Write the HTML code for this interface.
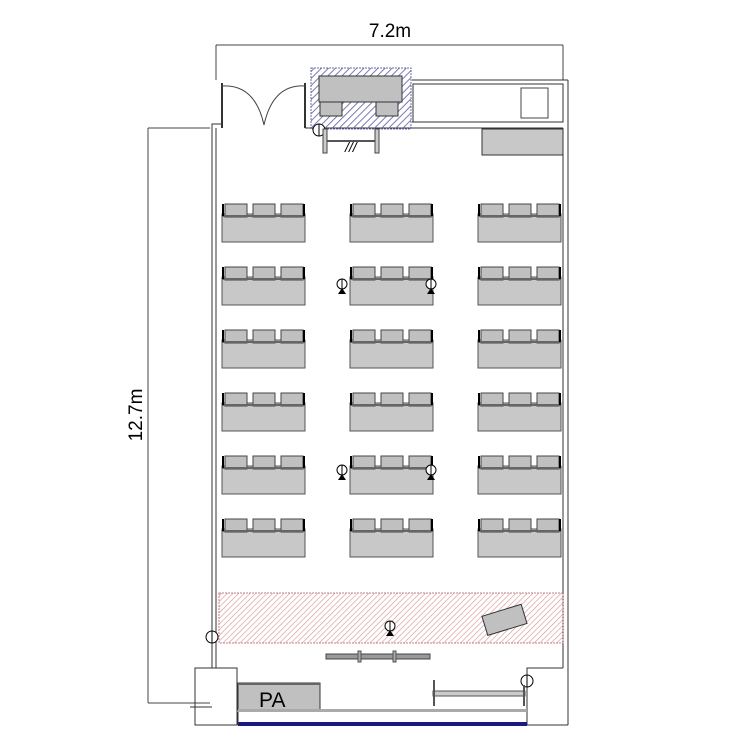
<!DOCTYPE html>
<html><head><style>body{margin:0;background:#fff}svg{display:block}</style></head><body>
<svg width="750" height="750" viewBox="0 0 750 750" xmlns="http://www.w3.org/2000/svg" font-family="Liberation Sans, sans-serif">
<defs>
<pattern id="hb" width="5" height="5" patternUnits="userSpaceOnUse" patternTransform="rotate(45)"><line x1="0" y1="0" x2="0" y2="5" stroke="#6a6aa8" stroke-width="1.8"/></pattern>
<pattern id="hr" width="4" height="4" patternUnits="userSpaceOnUse" patternTransform="rotate(45)"><line x1="0" y1="0" x2="0" y2="4" stroke="#d89090" stroke-width="1.2"/></pattern>
<g id="tbl">
<rect x="0" y="14" width="83" height="28" fill="#c8c8c8" stroke="#555" stroke-width="1"/>
<rect x="3" y="4" width="22" height="13" fill="#c0c0c0" stroke="#444"/>
<rect x="31" y="4" width="22" height="13" fill="#c0c0c0" stroke="#444"/>
<rect x="59" y="4" width="22" height="13" fill="#c0c0c0" stroke="#444"/>
<line x1="0" y1="16" x2="83" y2="16" stroke="#666" stroke-width="2"/>
<line x1="1" y1="4" x2="1" y2="16" stroke="#000" stroke-width="2"/>
<line x1="82" y1="4" x2="82" y2="16" stroke="#000" stroke-width="2"/>
</g>
<g id="mic"><circle cx="0" cy="0" r="5" fill="#fff" stroke="#000"/><line x1="0" y1="-5" x2="0" y2="5" stroke="#000"/><path d="M-4 10 L0 4 L4 10Z" fill="#000"/></g>
</defs>
<line x1="216" y1="45" x2="563" y2="45" stroke="#444"/>
<line x1="216" y1="45" x2="216" y2="80" stroke="#444"/>
<line x1="563" y1="45" x2="563" y2="80" stroke="#444"/>
<text x="390" y="37" font-size="19" text-anchor="middle">7.2m</text>
<line x1="148" y1="128" x2="148" y2="703" stroke="#444"/>
<line x1="148" y1="128" x2="210" y2="128" stroke="#444"/>
<line x1="148" y1="703" x2="210" y2="703" stroke="#444"/>
<text transform="translate(142 415) rotate(-90)" font-size="19" text-anchor="middle">12.7m</text>
<path d="M212 668 V124 H222 V83" fill="none" stroke="#333"/>
<path d="M216 668 V128" fill="none" stroke="#333"/>
<line x1="305" y1="83" x2="305" y2="128" stroke="#333" stroke-width="2"/>
<line x1="222" y1="83" x2="222" y2="128" stroke="#333" stroke-width="2"/>
<path d="M222 86 Q255 84 264 125 Q273 84 305 86" fill="none" stroke="#444"/>
<line x1="305" y1="128" x2="563" y2="128" stroke="#333"/>
<line x1="412" y1="122" x2="563" y2="122" stroke="#333"/>
<rect x="413" y="84" width="150" height="38" fill="none" stroke="#333"/>
<line x1="412" y1="80" x2="568" y2="80" stroke="#333"/>
<rect x="521" y="88" width="27" height="30" fill="#fff" stroke="#444"/>
<line x1="568" y1="80" x2="568" y2="725" stroke="#333"/>
<line x1="563" y1="128" x2="563" y2="668" stroke="#333"/>
<rect x="482" y="129" width="81" height="26" fill="#c8c8c8" stroke="#333"/>
<rect x="311" y="68" width="100" height="61" fill="url(#hb)" stroke="#6a6aa8" stroke-dasharray="2 1"/>
<rect x="319" y="76" width="83" height="26" fill="#c0c0c0" stroke="#333"/>
<rect x="320" y="102" width="22" height="14" fill="#c0c0c0" stroke="#333"/>
<rect x="376" y="102" width="22" height="14" fill="#c0c0c0" stroke="#333"/>
<circle cx="319" cy="130" r="6" fill="#fff" stroke="#000"/><line x1="319" y1="124" x2="319" y2="136" stroke="#000"/>
<line x1="323" y1="141" x2="379" y2="141" stroke="#555" stroke-width="2"/>
<rect x="323" y="129" width="4" height="24" fill="#ccc" stroke="#444"/>
<rect x="375" y="129" width="4" height="24" fill="#ccc" stroke="#444"/>
<text x="345" y="152" font-size="14" font-style="italic">///</text>
<g>
<use href="#tbl" x="222" y="200"/><use href="#tbl" x="350" y="200"/><use href="#tbl" x="478" y="200"/>
<use href="#tbl" x="222" y="263"/><use href="#tbl" x="350" y="263"/><use href="#tbl" x="478" y="263"/>
<use href="#tbl" x="222" y="326"/><use href="#tbl" x="350" y="326"/><use href="#tbl" x="478" y="326"/>
<use href="#tbl" x="222" y="389"/><use href="#tbl" x="350" y="389"/><use href="#tbl" x="478" y="389"/>
<use href="#tbl" x="222" y="452"/><use href="#tbl" x="350" y="452"/><use href="#tbl" x="478" y="452"/>
<use href="#tbl" x="222" y="515"/><use href="#tbl" x="350" y="515"/><use href="#tbl" x="478" y="515"/>
</g>
<use href="#mic" x="342" y="284"/><use href="#mic" x="431" y="284"/>
<use href="#mic" x="342" y="470"/><use href="#mic" x="431" y="470"/>
<rect x="219" y="593" width="344" height="50" fill="url(#hr)" stroke="#c08080" stroke-dasharray="2 1"/>
<rect x="484" y="610" width="41" height="20" fill="#c0c0c0" stroke="#333" transform="rotate(-17 504 620)"/>
<use href="#mic" x="390" y="626"/>
<circle cx="212" cy="637" r="6" fill="#fff" stroke="#000"/><line x1="212" y1="631" x2="212" y2="643" stroke="#000"/>
<rect x="326" y="654" width="104" height="5" fill="#999" stroke="#444"/>
<rect x="358" y="651" width="3" height="11" fill="#aaa" stroke="#555"/>
<rect x="393" y="651" width="3" height="11" fill="#aaa" stroke="#555"/>
<path d="M212 668 H195 V725 H237 V668 H212" fill="none" stroke="#333"/>
<line x1="190" y1="707" x2="212" y2="707" stroke="#333"/>
<path d="M563 668 H527 V725 H568" fill="none" stroke="#333"/>
<circle cx="527" cy="681" r="6" fill="#fff" stroke="#000"/><line x1="527" y1="675" x2="527" y2="687" stroke="#000"/>
<rect x="238" y="683" width="82" height="27" fill="#c0c0c0" stroke="#333"/>
<line x1="238" y1="684" x2="320" y2="684" stroke="#666" stroke-width="2"/>
<text x="259" y="707" font-size="21">PA</text>
<rect x="238" y="709" width="289" height="3" fill="#aaa"/>
<rect x="238" y="722" width="289" height="4" fill="#1a1a80"/>
<line x1="238" y1="712" x2="238" y2="725" stroke="#333"/>
<rect x="433" y="691" width="92" height="5" fill="#ccc" stroke="#555"/>
<line x1="434" y1="680" x2="434" y2="706" stroke="#555" stroke-width="2"/>
<line x1="524" y1="685" x2="524" y2="706" stroke="#555" stroke-width="2"/>
</svg>
</body></html>
